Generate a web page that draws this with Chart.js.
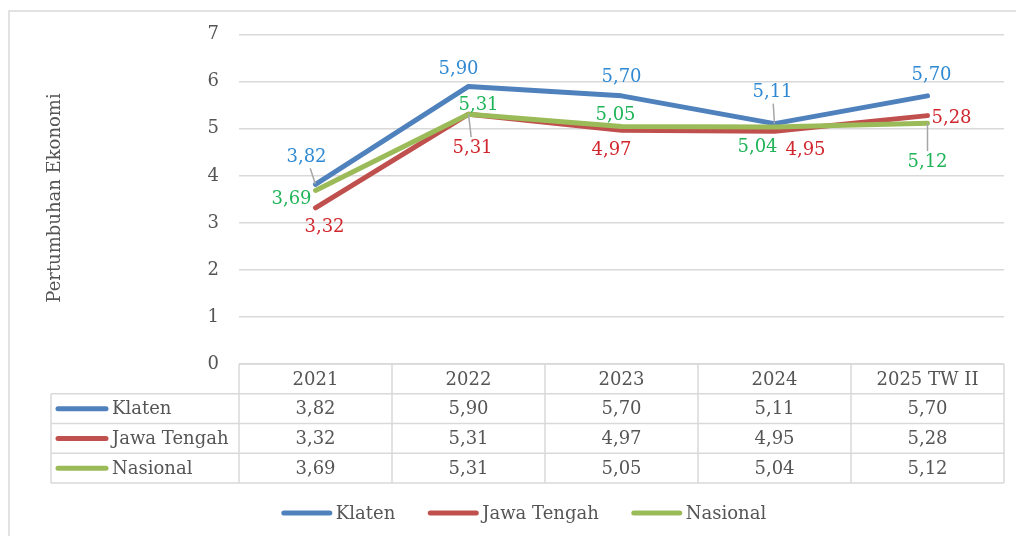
<!DOCTYPE html>
<html>
<head>
<meta charset="utf-8">
<script src="https://cdn.jsdelivr.net/npm/chart.js@4/dist/chart.umd.min.js"></script>
<style>
html,body{margin:0;padding:0;background:#fff;}
#wrap{width:1016px;height:536px;position:relative;}
</style>
</head>
<body>
<div id="wrap"><canvas id="c" width="1016" height="536"></canvas></div>
<script>
// ---- data ----
const categories = ['2021', '2022', '2023', '2024', '2025 TW II'];
const seriesNames = ['Klaten', 'Jawa Tengah', 'Nasional'];
const klaten = [3.82, 5.90, 5.70, 5.11, 5.70];
const jawaTengah = [3.32, 5.31, 4.97, 4.95, 5.28];
const nasional = [3.69, 5.31, 5.05, 5.04, 5.12];
const yMin = 0, yMax = 7, yStep = 1;
const yTitle = 'Pertumbuhan Ekonomi';

// ---- styles ----
const lineColors = ['#4F81BD', '#C0504D', '#9BBB59'];
const labelColors = ['#2F8AD3', '#D0262D', '#1FB457'];
const FONT = "'DejaVu Serif', 'Liberation Serif', serif";
const FS = 18;
const textGrey = '#555555';
const gridGrey = '#D9D9D9';
// label offsets (dx, dy) from each point, and whether a leader line is drawn
const labelOffsets = [
  [[-9,-27],[-10,-17],[0,-19],[-2,-31],[4,-21]],
  [[9,20],[4,34],[-10,20],[31,19],[24,3]],
  [[-24,9],[10,-9],[-6,-11],[-17,20],[0,39]]
];
const labelLeaders = [
  [true,false,false,true,false],
  [false,true,false,false,false],
  [false,false,false,false,true]
];

const allSeries = [klaten, jawaTengah, nasional];
const fmt = v => v.toFixed(2).replace('.', ',');

const framePlugin = {
  id: 'frame',
  beforeDraw(chart) {
    const ctx = chart.ctx;
    ctx.save();
    ctx.strokeStyle = gridGrey;
    ctx.lineWidth = 1.5;
    ctx.beginPath();
    ctx.moveTo(9, 536); ctx.lineTo(9, 11); ctx.lineTo(1016, 11);
    ctx.stroke();
    // axis title
    ctx.fillStyle = textGrey;
    ctx.font = FS + 'px ' + FONT;
    ctx.textAlign = 'center';
    ctx.textBaseline = 'middle';
    ctx.translate(55, 198);
    ctx.rotate(-Math.PI / 2);
    ctx.fillText(yTitle, 0, 0);
    ctx.restore();
  }
};

const labelPlugin = {
  id: 'labels',
  afterDatasetsDraw(chart) {
    const ctx = chart.ctx;
    ctx.save();
    ctx.font = FS + 'px ' + FONT;
    ctx.textAlign = 'center';
    ctx.textBaseline = 'middle';
    allSeries.forEach((arr, si) => {
      const meta = chart.getDatasetMeta(si);
      arr.forEach((v, i) => {
        const pt = meta.data[i];
        const [dx, dy] = labelOffsets[si][i];
        const lx = pt.x + dx, ly = pt.y + dy;
        const txt = fmt(v);
        if (labelLeaders[si][i]) {
          const w = ctx.measureText(txt).width / 2 + 2;
          const h = 9 + 2;
          const vx = pt.x - lx, vy = pt.y - ly;
          const t = Math.min(vx !== 0 ? w / Math.abs(vx) : Infinity, vy !== 0 ? h / Math.abs(vy) : Infinity);
          ctx.strokeStyle = '#A6A6A6';
          ctx.lineWidth = 1.5;
          ctx.beginPath();
          ctx.moveTo(lx + vx * t, ly + vy * t);
          ctx.lineTo(pt.x, pt.y);
          ctx.stroke();
        }
        ctx.fillStyle = labelColors[si];
        ctx.fillText(txt, lx, ly);
      });
    });
    ctx.restore();
  }
};

const tablePlugin = {
  id: 'table',
  afterDraw(chart) {
    const ctx = chart.ctx;
    const ca = chart.chartArea;
    const xs = chart.scales.x;
    const n = categories.length;
    const colW = (ca.right - ca.left) / n;
    const top = ca.bottom;
    const rowH = 29.75;
    const rows = seriesNames.length + 1;
    const bottom = top + rowH * rows;
    const tableLeft = 51;
    ctx.save();
    ctx.strokeStyle = gridGrey;
    ctx.lineWidth = 1.5;
    ctx.beginPath();
    // horizontal lines
    ctx.moveTo(ca.left, top); ctx.lineTo(ca.right, top);
    for (let r = 1; r <= rows; r++) {
      const y = top + r * rowH;
      ctx.moveTo(tableLeft, y); ctx.lineTo(ca.right, y);
    }
    // vertical lines
    ctx.moveTo(tableLeft, top + rowH); ctx.lineTo(tableLeft, bottom);
    for (let c = 0; c <= n; c++) {
      const x = ca.left + c * colW;
      ctx.moveTo(x, top); ctx.lineTo(x, bottom);
    }
    ctx.stroke();

    ctx.font = FS + 'px ' + FONT;
    ctx.textBaseline = 'middle';
    ctx.fillStyle = textGrey;
    ctx.textAlign = 'center';
    categories.forEach((c, i) => {
      ctx.fillText(c, xs.getPixelForValue(i), top + rowH / 2 + 1);
    });
    allSeries.forEach((arr, si) => {
      const cy = top + rowH * (si + 1) + rowH / 2;
      arr.forEach((v, i) => {
        ctx.fillStyle = textGrey;
        ctx.textAlign = 'center';
        ctx.fillText(fmt(v), xs.getPixelForValue(i), cy + 1);
      });
      // key
      ctx.strokeStyle = lineColors[si];
      ctx.lineWidth = 5;
      ctx.lineCap = 'round';
      ctx.beginPath();
      ctx.moveTo(58, cy); ctx.lineTo(106, cy);
      ctx.stroke();
      ctx.fillStyle = textGrey;
      ctx.textAlign = 'left';
      ctx.fillText(seriesNames[si], 112, cy + 1);
    });

    // bottom legend
    const ly = 513;
    const keyW = 50, gapKT = 4, gapItems = 33;
    const widths = seriesNames.map(s => keyW + gapKT + ctx.measureText(s).width);
    const total = widths.reduce((a, b) => a + b, 0) + gapItems * (seriesNames.length - 1);
    let x = 524 - total / 2;
    seriesNames.forEach((s, si) => {
      ctx.strokeStyle = lineColors[si];
      ctx.lineWidth = 5;
      ctx.lineCap = 'round';
      ctx.beginPath();
      ctx.moveTo(x + 2, ly); ctx.lineTo(x + keyW - 2, ly);
      ctx.stroke();
      ctx.fillStyle = textGrey;
      ctx.textAlign = 'left';
      ctx.fillText(s, x + keyW + gapKT, ly + 1);
      x += widths[si] + gapItems;
    });
    ctx.restore();
  }
};

const datasetOrder = [2, 1, 0];
new Chart(document.getElementById('c'), {
  type: 'line',
  data: {
    labels: categories,
    datasets: allSeries.map((arr, si) => ({
      label: seriesNames[si],
      data: arr,
      borderColor: lineColors[si],
      backgroundColor: lineColors[si],
      borderWidth: 5,
      borderCapStyle: 'round',
      borderJoinStyle: 'round',
      pointRadius: 0,
      tension: 0,
      fill: false,
      order: datasetOrder[si]
    }))
  },
  options: {
    responsive: false,
    animation: false,
    layout: { padding: { left: 0, right: 12, top: 34.7, bottom: 172 } },
    plugins: { legend: { display: false }, tooltip: { enabled: false } },
    scales: {
      x: { type: 'category', offset: true, display: false },
      y: {
        min: yMin, max: yMax,
        ticks: { stepSize: yStep, color: textGrey, padding: 20, font: { family: FONT, size: FS } },
        grid: { color: gridGrey, lineWidth: 1.5, drawTicks: false },
        border: { display: false },
        afterFit(s) { s.width = 239; }
      }
    }
  },
  plugins: [framePlugin, labelPlugin, tablePlugin]
});
</script>
</body>
</html>
